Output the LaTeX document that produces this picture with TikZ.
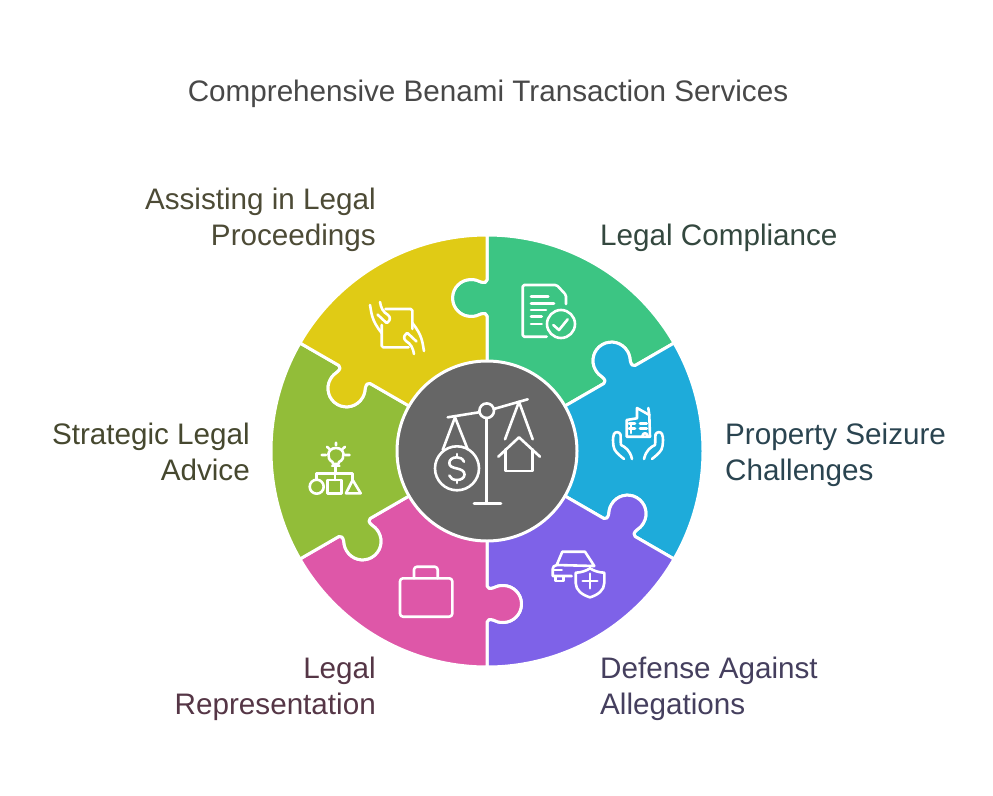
\documentclass[tikz,border=0pt]{standalone}
\usepackage{fontspec}
\setmainfont{Liberation Sans}
\definecolor{pgreen}{HTML}{3CC583}
\definecolor{pblue}{HTML}{1EABDA}
\definecolor{ppurple}{HTML}{7E62E8}
\definecolor{ppink}{HTML}{DE57A8}
\definecolor{polive}{HTML}{92BD39}
\definecolor{pyellow}{HTML}{E0CB15}
\definecolor{pgrey}{HTML}{666666}
\definecolor{tgreen}{HTML}{34483F}
\definecolor{tblue}{HTML}{2A4450}
\definecolor{tpurple}{HTML}{453F5E}
\definecolor{tpink}{HTML}{553646}
\definecolor{tolive}{HTML}{46482F}
\definecolor{tyellow}{HTML}{4D4B36}
\definecolor{ttitle}{HTML}{484848}
\tikzset{
  iconline/.style={draw=white,line width=2.6pt,line cap=round,line join=round},
  labeltext/.style={inner sep=0pt,font=\fontsize{29.65}{36}\selectfont},
  lefttext/.style={labeltext,align=left,anchor=base west},
  righttext/.style={labeltext,align=right,anchor=base east}
}
\newcommand{\puzzle}[2]{%
\path[shift={(487,451)},y=1pt,rotate=#1,fill=#2,draw=white,line width=3pt,line join=round]
 (0,90) -- (0,135) .. controls (0,137.5) and (-3,138) .. (-6,137)
 .. controls (-9,135.5) and (-12,134.5) .. (-16,134.5)
 arc[start angle=-90,end angle=-270,radius=18.5]
 .. controls (-12,171.5) and (-9,170.5) .. (-6,169)
 .. controls (-3,168) and (0,168.5) .. (0,171)
 -- (0,216) arc[start angle=90,end angle=30,radius=216]
 {[rotate=-60] -- (0,171) .. controls (0,168.5) and (-3,168) .. (-6,169)
 .. controls (-9,170.5) and (-12,171.5) .. (-16,171.5)
 arc[start angle=90,end angle=270,radius=18.5]
 .. controls (-12,134.5) and (-9,135.5) .. (-6,137)
 .. controls (-3,138) and (0,137.5) .. (0,135) -- (0,90)} -- cycle;
}
\begin{document}
\begin{tikzpicture}[x=1pt,y=-1pt]
\useasboundingbox (0,0) rectangle (993,795);
\fill[white] (0,0) rectangle (993,795);
\puzzle{0}{pgreen}
\puzzle{-60}{pblue}
\puzzle{-120}{ppurple}
\puzzle{-180}{ppink}
\puzzle{-240}{polive}
\puzzle{-300}{pyellow}
\node[circle,fill=pgrey,draw=white,line width=3pt,minimum size=180pt,inner sep=0pt] (hub) at (487,451) {};
% text
\node[labeltext,text=ttitle,anchor=base] (title) at (488,101.5) {Comprehensive Benami Transaction Services};
\node[righttext,text=tyellow] (l1) at (376,245.5) {Assisting in Legal\\Proceedings};
\node[lefttext,text=tgreen] (l2) at (600,245.5) {Legal Compliance};
\node[lefttext,text=tblue] (l3) at (725,480) {Property Seizure\\Challenges};
\node[lefttext,text=tpurple] (l4) at (600,714) {Defense Against\\Allegations};
\node[righttext,text=tpink] (l5) at (376,714) {Legal\\Representation};
\node[righttext,text=tolive] (l6) at (250,480) {Strategic Legal\\Advice};
% hub icon
\draw[iconline] (447.7,417.3) -- (479.6,412.2) (493.8,409) -- (527.7,399.3);
\draw[iconline] (486.7,410.7) circle[radius=7.3];
\draw[iconline] (486.7,418) -- (486.7,503.3) (474,503.3) -- (501,503.3);
\draw[iconline] (442.7,450) -- (455,417.3) -- (467.7,449.3);
\draw[iconline] (457,468.3) circle[radius=22];
\draw[iconline] (464,461.7) .. controls (462.5,458.5) and (460,457.3) .. (457,457.3) .. controls (452,457.3) and (449.3,460) .. (449.3,463) .. controls (449.3,466.5) and (452.5,467.5) .. (457,468.5) .. controls (461.5,469.5) and (464.5,471) .. (464.5,474.5) .. controls (464.5,478) and (461,480) .. (457,480) .. controls (453,480) and (450.5,478.5) .. (449.3,475.5);
\draw[iconline] (457,454) -- (457,457.3) (457,480) -- (457,483);
\draw[iconline] (505,439.3) -- (519,401.7) -- (532.7,439.3);
\draw[iconline] (498.3,456.7) -- (519,437.3) -- (540,456.7);
\draw[iconline] (505.7,449.3) -- (505.7,471) -- (532.3,471) -- (532.3,449.3);
% green icon
\draw[iconline,rounded corners=1.5pt] (546.7,336.7) -- (522.7,336.7) -- (522.7,285) -- (556.7,285) -- (566,295) -- (566,304);
\draw[iconline] (531,296.7) -- (548.3,296.7) (531,303.3) -- (554,303.3) (531,310) -- (546,310) (531,316.7) -- (541.7,316.7) (531,324) -- (541.7,324);
\draw[iconline] (561,324) circle[radius=14];
\draw[iconline] (553.3,325) -- (559,330) -- (567.7,319.3);
% blue icon
\draw[iconline] (626.7,420) -- (637,418.3) -- (637,408) -- (649.3,415) -- (650,436.7) -- (626.7,436.7) -- cycle;
\draw[iconline] (648.3,408) -- (649.3,415);
\draw[iconline] (631,423) -- (631,433) (629,423.3) -- (635,423.3) (629,428.3) -- (635,428.3) (640,423.3) -- (646.7,423.3) (640,428.3) -- (646.7,428.3);
\draw[iconline] (642.3,436.7) .. controls (642.3,432) and (647.7,432) .. (647.7,436.7);
\draw[iconline] (624,459) .. controls (618,454) and (614,451) .. (613.5,446) .. controls (613,442) and (612.5,438) .. (614,434) .. controls (615,431.5) and (619.5,431.5) .. (620.5,434.5) .. controls (621,438) and (620.5,442) .. (621,445) (621,445) .. controls (625,447) and (630,450) .. (632,459);
\draw[iconline] (652,459) .. controls (658,454) and (662,451) .. (662.5,446) .. controls (663,442) and (663.5,438) .. (662,434) .. controls (661,431.5) and (656.5,431.5) .. (655.5,434.5) .. controls (655,438) and (655.5,442) .. (655,445) (655,445) .. controls (651,447) and (646,450) .. (644,459);
% purple icon
\draw[iconline] (556.7,565) -- (562.3,551.7) -- (585,551.7) -- (594.3,566) (556.7,565) -- (594.3,566);
\draw[iconline] (556.7,565) .. controls (554,565.5) and (552.7,567) .. (552.7,569) -- (552.7,576) -- (571.7,576);
\draw[iconline] (554.3,570) -- (561.7,570);
\draw[iconline] (555.7,577.3) -- (555.7,581) -- (563.3,581) -- (563.3,577.3);
\fill[ppurple] (575.7,572.7) .. controls (581,572.5) and (586,571) .. (590,568.3) .. controls (594,571) and (599,572.5) .. (604.3,572.7) -- (604.3,583) .. controls (604.3,590) and (598,595) .. (590,597.3) .. controls (582,595) and (575.7,590) .. (575.7,583) -- cycle;
\draw[iconline] (575.7,572.7) .. controls (581,572.5) and (586,571) .. (590,568.3) .. controls (594,571) and (599,572.5) .. (604.3,572.7) -- (604.3,583) .. controls (604.3,590) and (598,595) .. (590,597.3) .. controls (582,595) and (575.7,590) .. (575.7,583) -- cycle;
\draw[iconline] (582.7,581) -- (597.3,581) (590,573.7) -- (590,588.3);
% pink icon
\draw[iconline,rounded corners=3pt] (400,578.3) rectangle (452.3,616.7);
\draw[iconline,rounded corners=3pt] (414,578.3) -- (414,566.7) -- (437.7,566.7) -- (437.7,578.3);
% olive icon
\draw[iconline] (316.7,486.7) circle[radius=7];
\draw[iconline] (327.3,480) rectangle (341.7,493.3);
\draw[iconline] (352.7,480) -- (346,493.3) -- (360.7,493.3) -- cycle;
\draw[iconline] (316.7,479.7) -- (316.7,473.3) -- (352.7,473.3) -- (352.7,480) (335,473.3) -- (335,480) (335.7,465) -- (335.7,473.3) (332,466) -- (339.5,466);
\draw[iconline] (332.5,462) .. controls (326,459) and (327,448) .. (336,448) .. controls (345,448) and (346,459) .. (339,462) -- (338.5,464) -- (333,464) -- cycle;
\draw[iconline] (321.7,455) -- (326,455) (345,455) -- (349.5,455) (327,446.7) -- (329.7,449.3) (336,442.7) -- (336,445.2) (345,446.7) -- (342.3,449.3);
% yellow icon
\draw[iconline,rounded corners=1.5pt] (385.5,309) -- (412.3,309) -- (412.3,329);
\draw[iconline,rounded corners=1.5pt] (408.5,347.3) -- (381.7,347.3) -- (381.7,325);
\draw[iconline] (370,305) .. controls (371.5,312) and (371,320) .. (381.7,333);
\draw[iconline] (380,302) .. controls (381,308) and (383,312) .. (388,315) .. controls (390.5,317) and (390.5,320) .. (388,322);
\draw[iconline] (377.5,314.5) -- (386,322.5) .. controls (387,323.3) and (388,322.5) .. (388,322);
\draw[iconline] (424,351) .. controls (422.5,344) and (423,336) .. (412.3,323);
\draw[iconline] (414,354) .. controls (413,348) and (411,344) .. (406,341) .. controls (403.5,339) and (403.5,336) .. (406,334);
\draw[iconline] (416.5,341.5) -- (408,333.5) .. controls (407,332.7) and (406,333.5) .. (406,334);
\end{tikzpicture}
\end{document}
